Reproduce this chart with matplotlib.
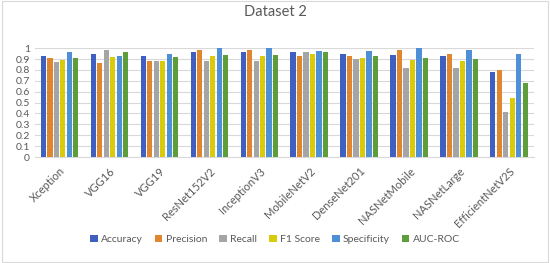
import matplotlib.pyplot as plt
import numpy as np
from matplotlib.ticker import FuncFormatter

models = ["Xception", "VGG16", "VGG19", "ResNet152V2", "InceptionV3", "MobileNetV2",
          "DenseNet201", "NASNetMobile", "NASNetLarge", "EfficientNetV2S"]
metrics = ["Accuracy", "Precision", "Recall", "F1 Score", "Specificity", "AUC-ROC"]

accuracy = [0.93, 0.95, 0.93, 0.96, 0.96, 0.96, 0.95, 0.94, 0.93, 0.78]
precision = [0.91, 0.86, 0.88, 0.98, 0.98, 0.93, 0.93, 0.98, 0.95, 0.80]
recall = [0.87, 0.98, 0.88, 0.88, 0.88, 0.96, 0.90, 0.82, 0.82, 0.41]
f1_score = [0.89, 0.92, 0.88, 0.93, 0.93, 0.95, 0.91, 0.89, 0.88, 0.54]
specificity = [0.96, 0.93, 0.95, 1.00, 1.00, 0.97, 0.97, 1.00, 0.98, 0.95]
auc_roc = [0.91, 0.96, 0.92, 0.94, 0.94, 0.96, 0.93, 0.91, 0.90, 0.68]

series = [accuracy, precision, recall, f1_score, specificity, auc_roc]
colors = ["#3F60C0", "#E0862E", "#A5A5A5", "#D9CB0A", "#4F8FD8", "#5E9E3A"]

plt.rcParams['font.family'] = ['Lato', 'DejaVu Sans']

fig = plt.figure(figsize=(5.5, 2.63), dpi=100)
ax = fig.add_axes([0.063, 0.403, 0.908, 0.414])

x = np.arange(len(models))
slot = 0.13
width = 0.105
for i, (vals, name) in enumerate(zip(series, metrics)):
    ax.bar(x + (i - 2.5) * slot, vals, width, color=colors[i], label=name, zorder=3)


def fmt(v, p):
    if abs(v) < 1e-9:
        return "0"
    if abs(v - 1) < 1e-9:
        return "1"
    return "%.1f" % v


ax.set_xlim(-0.5, len(models) - 0.5)
ax.set_ylim(0, 1)
ax.set_yticks(np.arange(0, 1.01, 0.1))
ax.yaxis.set_major_formatter(FuncFormatter(fmt))
ax.grid(axis='y', color='#D9D9D9', linewidth=0.8, zorder=0)
for s in ['top', 'right', 'left']:
    ax.spines[s].set_visible(False)
ax.spines['bottom'].set_color('#D9D9D9')
ax.tick_params(axis='both', length=0, labelsize=7.5, colors='#595959')
ax.set_xticks(x)
ax.set_xticklabels(models, rotation=45, ha='right', rotation_mode='anchor', fontsize=8)
ax.tick_params(axis='x', pad=6)

fig.text(0.5, 0.955, "Dataset 2", ha='center', va='center', fontsize=10.5, color='#595959')

fig.legend(loc='center', bbox_to_anchor=(0.5, 0.09), ncol=6, frameon=False, fontsize=7.5,
           handlelength=0.7, handleheight=0.7, handletextpad=0.3, columnspacing=1.2,
           labelcolor='#595959')

fig.patches.append(plt.Rectangle((0.003, 0.005), 0.994, 0.99, transform=fig.transFigure,
                                 fill=False, edgecolor='#D9D9D9', linewidth=0.8))

fig.savefig("out.png", dpi=100)
